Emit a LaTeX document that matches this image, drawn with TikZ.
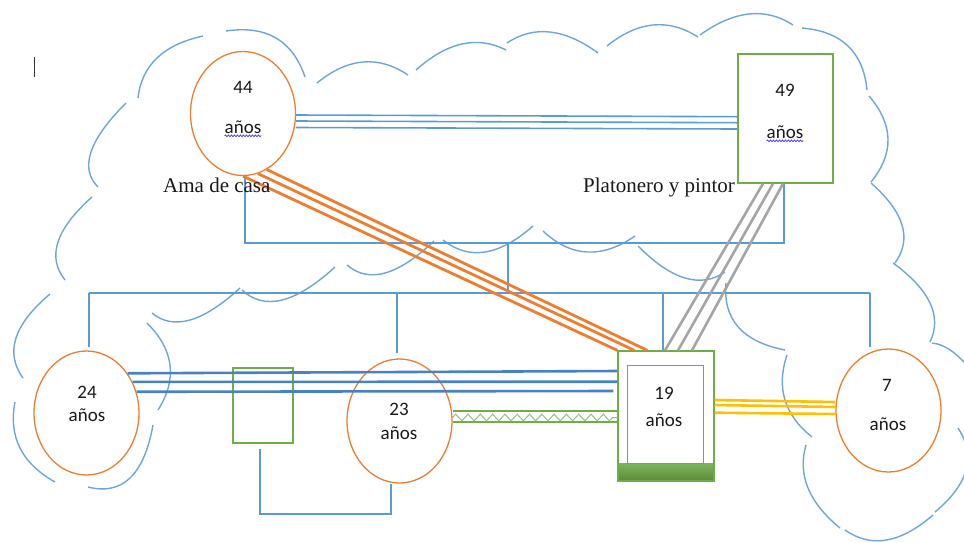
\documentclass[tikz,border=0pt]{standalone}
\usepackage{fontspec}
\setmainfont{Liberation Serif}
\newfontfamily\calib{Carlito}
\usetikzlibrary{shapes.geometric,decorations.pathmorphing,calc}
\definecolor{cblue}{RGB}{91,155,213}
\definecolor{lblue}{RGB}{110,165,218}
\definecolor{dblue}{RGB}{72,130,198}
\definecolor{gor}{RGB}{237,125,49}
\definecolor{ggreen}{RGB}{112,173,71}
\definecolor{ggray}{RGB}{165,165,165}
\definecolor{gyel}{RGB}{255,192,0}
\newcommand\qarc[3]{\draw[cloudarc] #1 .. controls ($#1!0.6667!#2$) and ($#3!0.6667!#2$) .. #3;}
\begin{document}
\begin{tikzpicture}[x=1pt,y=-1pt,
  fem/.style={ellipse,draw=gor,line width=1.3pt,minimum width=105pt,minimum height=124pt,inner sep=0pt},
  male/.style={rectangle,draw=ggreen,line width=1.3pt,inner sep=0pt},
  age/.style={font=\calib\fontsize{19}{21}\selectfont,text=black!90,inner sep=0pt},
  job/.style={font=\fontsize{21}{23}\selectfont,anchor=base west,inner sep=0pt,text=black!90},
  cloudarc/.style={draw=lblue,line width=1.4pt},
  tree/.style={draw=cblue,line width=1.3pt},
  lineA/.style={draw=cblue,line width=1.6pt},
  lineB/.style={draw=dblue,line width=2.6pt},
  lineO/.style={draw=gor,line width=2.8pt},
  lineG/.style={draw=ggray,line width=2.6pt},
  lineY/.style={draw=gyel,line width=2.6pt},
  lineZ/.style={draw=ggreen,line width=1.8pt},
  squig/.style={draw=blue!80,line width=0.7pt,decorate,decoration={snake,segment length=3pt,amplitude=0.8pt}}
]
\useasboundingbox (0,0) rectangle (964,542);
\clip (0,0) rectangle (964,542);

% clouds
\qarc{(126,103)}{(70,159)}{(98,187)}
\qarc{(138,98)}{(143.5,49)}{(203,36)}
\qarc{(226,31)}{(286.5,22)}{(305,77)}
\qarc{(317,83)}{(363.5,45)}{(408,75)}
\qarc{(416,70)}{(463,28)}{(506,50)}
\qarc{(507,43)}{(547.5,16)}{(598,53)}
\qarc{(607,46)}{(653.5,8.5)}{(698,37)}
\qarc{(700,35)}{(751.5,-2)}{(793,25)}
\qarc{(802,28)}{(861.5,33)}{(867,90)}
\qarc{(869,96)}{(906,139)}{(871,182)}
\qarc{(871,183)}{(921,227)}{(895,263)}
\qarc{(893,263)}{(948.5,303.5)}{(930,342)}
\qarc{(932,343)}{(952,345)}{(972,372)}
\qarc{(958,428)}{(985.5,470)}{(935,512)}
\qarc{(845,530)}{(884,557.5)}{(933,515)}
\qarc{(806,445)}{(793,489.5)}{(840,528)}
\qarc{(787,355)}{(770.5,404)}{(812,437)}
\qarc{(726,283)}{(721,337.5)}{(785,350)}
\qarc{(638,246)}{(688.5,297)}{(725,272)}
\qarc{(543,231)}{(585,270.5)}{(635,236)}
\qarc{(443,240)}{(482,271)}{(533,226)}
\qarc{(347,265)}{(379.5,293)}{(434,241)}
\qarc{(242,290)}{(275.5,321.5)}{(335,267)}
\qarc{(152,313)}{(184,339.5)}{(240,288)}
\qarc{(92,197)}{(37.5,245.5)}{(65,280)}
\qarc{(50,294)}{(-4.5,340)}{(23,378)}
\qarc{(15,402)}{(5,454)}{(55,482)}
\qarc{(88,487)}{(139.5,500)}{(153,425)}
\qarc{(147,323)}{(187.5,363.5)}{(158,410)}

% cursor
\draw[black!80,line width=0.9pt] (34,57) -- (34,77);

% people
\node[fem] (m44) at (243,113.5) {};
\node[male,minimum width=95pt,minimum height=129pt] (b49) at (785.5,118.5) {};
\node[fem] (m24) at (86.5,413) {};
\node[fem] (m23) at (399.5,421) {};
\node[fem,minimum height=123pt] (m7) at (888.5,410.5) {};
\node[male,minimum width=60pt,minimum height=75pt] (gbox) at (263,405.5) {};
\fill[top color=ggreen!90!white,bottom color=ggreen!80!black] (618,463) rectangle (714,481);
\node[male,minimum width=96pt,minimum height=130pt] (b19) at (666,416) {};
\node[male,line width=1pt,minimum width=76pt,minimum height=98pt] (b19i) at (665,414) {};

% family tree lines
\coordinate (pbar) at (508,243);
\coordinate (sL) at (89,293);
\coordinate (sR) at (870,293);
\coordinate (cb) at (391,514);
\draw[tree] ([xshift=2pt]m44.south) |- (pbar) -| ([xshift=-1.5pt]b49.south);
\draw[tree] (pbar) -- (pbar |- sL);
\draw[tree] (sL) -- (sR);
\draw[tree] (sL) -- ([yshift=3pt]sL |- m24.north);
\draw[tree] ([xshift=-2.5pt,yshift=5pt]m23.north) -- ([xshift=-2.5pt]m23.north |- sL);
\draw[tree] ([xshift=-3pt]b19.north) -- ([xshift=-3pt]b19.north |- sL);
\draw[tree] (sR) -- ([yshift=1pt]sR |- m7.north);
\draw[tree] ([xshift=-3pt,yshift=-5pt]gbox.south) |- (cb) -- ([xshift=-8.5pt]m23.south);

% relationship lines
\draw[lineA] ([yshift=-1.5pt]m44.east) -- ([yshift=1.8pt]b49.west);
\draw[lineA] ([yshift=-7.5pt]m44.east) -- ([yshift=-4.2pt]b49.west);
\draw[lineA] ([yshift=-14pt]m44.east) -- ([yshift=-10.5pt]b49.west);

\draw[lineO] (m44.-90) -- (b19.north west);
\draw[lineO] (m44.-76) -- ([xshift=17pt]b19.north west);
\draw[lineO] (m44.-67) -- ([xshift=30pt]b19.north west);

\draw[lineG] ([xshift=-22.5pt]b49.south) -- ([xshift=-1pt]b19.north);
\draw[lineG] ([xshift=-12.5pt]b49.south) -- ([xshift=12pt]b19.north);
\draw[lineG] ([xshift=-2.5pt]b49.south) -- ([xshift=26pt]b19.north);

\draw[lineB] (m24.44) -- ([yshift=45pt]b19.west);
\draw[lineB] (m24.34) -- ([yshift=34.3pt]b19.west);
\draw[lineB] (m24.23) -- ([xshift=-4pt,yshift=25pt]b19.west);

\draw[lineZ] ([yshift=10pt]m23.east) -- ([yshift=5pt]b19.west);
\draw[lineZ] ([yshift=-0.7pt]m23.east) -- ([yshift=-5.7pt]b19.west);
\draw[draw=ggreen!75,line width=1pt,decorate,decoration={zigzag,segment length=12.3pt,amplitude=3.3pt}]
  ([yshift=3.5pt]m23.east) -- ([yshift=-1.5pt]b19.west);

\draw[lineY] ([yshift=16pt]b19.east) -- ([yshift=8.5pt]m7.west);
\draw[lineY] ([yshift=11pt]b19.east) -- ([yshift=3.5pt]m7.west);
\draw[lineY] ([yshift=3.3pt]b19.east) -- ([yshift=-3.5pt]m7.west);

% texts
\node[age] (t44a) at (243,87) {44};
\node[age] (t44b) at (243,127) {años};
\node[age] (t49a) at (785,90) {49};
\node[age] (t49b) at (785,132) {años};
\node[age] (t24a) at (87,392) {24};
\node[age] (t24b) at (87,415) {años};
\node[age] (t23a) at (399,409) {23};
\node[age] (t23b) at (399,433) {años};
\node[age] (t19a) at (664,393) {19};
\node[age] (t19b) at (664,420) {años};
\node[age] (t7a) at (887,385) {7};
\node[age] (t7b) at (888,424) {años};
\draw[squig] ([yshift=-2.5pt]t44b.base west) -- ([yshift=-2.5pt]t44b.base east);
\draw[squig] ([yshift=-2.5pt]t49b.base west) -- ([yshift=-2.5pt]t49b.base east);

\node[job] (jA) at (163,192) {Ama de casa};
\node[job] (jP) at (583,192) {Platonero y pintor};
\end{tikzpicture}
\end{document}
